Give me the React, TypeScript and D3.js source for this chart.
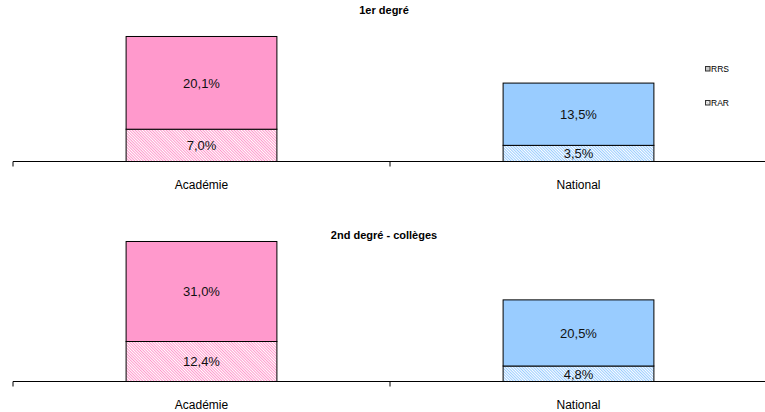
import React from "react";
import * as d3 from "d3";

const categories = ["Académie", "National"];
const titles = ["1er degré", "2nd degré - collèges"];
const rarValues = [
  [7.0, 3.5],
  [12.4, 4.8],
];
const rrsValues = [
  [20.1, 13.5],
  [31.0, 20.5],
];
const yMax = [30, 50];
const seriesNames = ["RRS", "RAR"];
const barColors = ["#FF99CC", "#99CCFF"];

const W = 765;
const H = 412;
const fmt = (v: number) => v.toFixed(1).replace(".", ",") + "%";

const panels = [
  { base: 161.5, pxPer: 4.613, titleY: 14 },
  { base: 381.5, pxPer: 3.226, titleY: 239 },
];

export default function App() {
  const x = d3.scaleBand<string>().domain(categories).range([13, 767]).paddingInner(0).paddingOuter(0);
  const bw = x.bandwidth() * 0.4;
  return (
    <svg width={W} height={H} style={{ position: "absolute", left: 0, top: 0 }} fontFamily="'Liberation Sans', Arial, sans-serif">
      <defs>
        {barColors.map((c, i) => (
          <pattern key={i} id={`hatch${i}`} width={2} height={2} patternUnits="userSpaceOnUse" patternTransform="rotate(-45)">
            <rect width={2} height={2} fill={c} />
            <line x1={0.5} y1={0} x2={0.5} y2={2} stroke="#fff" strokeWidth={1} />
          </pattern>
        ))}
        <pattern id="hatchGrey" width={2} height={2} patternUnits="userSpaceOnUse" patternTransform="rotate(-45)">
          <rect width={2} height={2} fill="#c8c8c8" />
          <line x1={0.5} y1={0} x2={0.5} y2={2} stroke="#fff" strokeWidth={0.8} />
        </pattern>
      </defs>
      <rect width={W} height={H} fill="#fff" />
      {panels.map((p, pi) => {
        const y = d3.scaleLinear().domain([0, yMax[pi]]).range([p.base, p.base - yMax[pi] * p.pxPer]);
        return (
          <g key={pi}>
            <text x={384} y={p.titleY} textAnchor="middle" fontSize={11} fontWeight="bold" fill="#000">
              {titles[pi]}
            </text>
            {categories.map((c, ci) => {
              const cx = (x(c) as number) + x.bandwidth() / 2;
              const x0 = cx - bw / 2;
              const rar = rarValues[pi][ci];
              const rrs = rrsValues[pi][ci];
              const yRar = y(rar);
              const yTop = y(rar + rrs);
              return (
                <g key={c}>
                  <rect x={x0} y={yRar} width={bw} height={y(0) - yRar} fill={`url(#hatch${ci})`} stroke="#000" strokeWidth={1} />
                  <rect x={x0} y={yTop} width={bw} height={yRar - yTop} fill={barColors[ci]} stroke="#000" strokeWidth={1} />
                  <text x={cx} y={(y(0) + yRar) / 2 + 5} textAnchor="middle" fontSize={13} fill="#111">
                    {fmt(rar)}
                  </text>
                  <text x={cx} y={(yRar + yTop) / 2 + 5} textAnchor="middle" fontSize={13} fill="#111">
                    {fmt(rrs)}
                  </text>
                  <text x={cx} y={p.base + 27} textAnchor="middle" fontSize={12} fill="#000">
                    {c}
                  </text>
                </g>
              );
            })}
            <line x1={13} x2={767} y1={p.base} y2={p.base} stroke="#000" strokeWidth={1} />
            {[13, x("National") as number].map((tx, ti) => (
              <line key={ti} x1={tx} x2={tx} y1={p.base} y2={p.base + 5} stroke="#000" strokeWidth={1} />
            ))}
          </g>
        );
      })}
      {seriesNames.map((s, i) => (
        <g key={s}>
          <rect x={705.5} y={66.5 + i * 34} width={4.5} height={4.5} fill={i === 0 ? "#c8c8c8" : "url(#hatchGrey)"} stroke="#333" strokeWidth={1} />
          <text x={711} y={72 + i * 34} fontSize={8.5} fill="#000">
            {s}
          </text>
        </g>
      ))}
    </svg>
  );
}
